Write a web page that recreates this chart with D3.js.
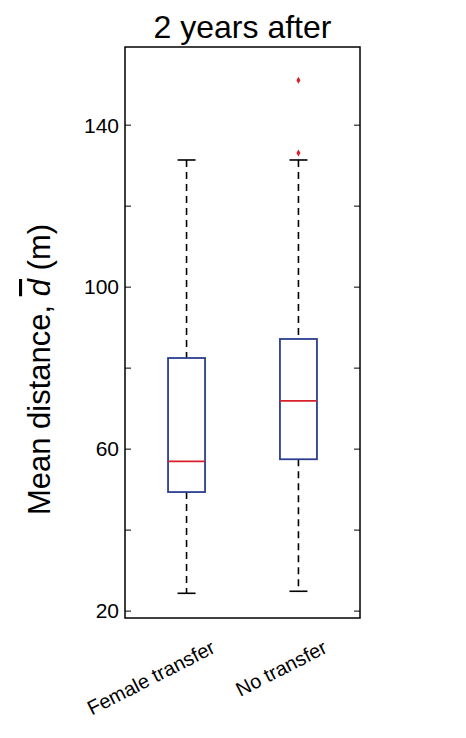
<!DOCTYPE html>
<html><head><meta charset="utf-8">
<script src="https://cdn.jsdelivr.net/npm/d3@7"></script>
<style>body{margin:0;background:#fff}text{font-family:Arial,"Liberation Sans",sans-serif}</style>
</head><body><div id="chart"></div>
<script>
// Box statistics
const groups   = ["Female transfer", "No transfer"];
const whiskLo  = [24.4, 24.9];
const q1       = [49.4, 57.5];
const medians  = [57.0, 71.9];
const q3       = [82.5, 87.2];
const whiskHi  = [131.4, 131.4];
const outliers = [[], [151.1, 133.1]];
const yTicks   = [20, 40, 60, 80, 100, 120, 140];
const yLabels  = [20, 60, 100, 140];

const W = 466, H = 738;
const m = {left: 125, right: 106, top: 47, bottom: 120};
const svg = d3.select("#chart").append("svg").attr("width", W).attr("height", H);

const y = d3.scaleLinear().domain([18.3, 159.3]).range([H - m.bottom, m.top]);
const x = d3.scalePoint().domain(groups).range([m.left, W - m.right]).padding(0.55);
const bw = 37;

const g = svg.append("g");
// ticks on both sides, pointing inward
yTicks.forEach(t => {
  g.append("line").attr("x1", m.left).attr("x2", m.left + 6).attr("y1", y(t)).attr("y2", y(t)).attr("stroke", "#000");
  g.append("line").attr("x1", W - m.right).attr("x2", W - m.right - 6).attr("y1", y(t)).attr("y2", y(t)).attr("stroke", "#000");
});
yLabels.forEach(t => {
  g.append("text").attr("x", m.left - 6).attr("y", y(t)).attr("dy", "0.35em")
    .attr("text-anchor", "end").attr("font-size", 21).text(t);
});

groups.forEach((grp, i) => {
  const cx = x(grp);
  g.append("line").attr("x1", cx).attr("x2", cx).attr("y1", y(whiskHi[i])).attr("y2", y(q3[i]))
    .attr("stroke", "#000").attr("stroke-width", 1.6).attr("stroke-dasharray", "7,5");
  g.append("line").attr("x1", cx).attr("x2", cx).attr("y1", y(q1[i])).attr("y2", y(whiskLo[i]))
    .attr("stroke", "#000").attr("stroke-width", 1.6).attr("stroke-dasharray", "7,5");
  [whiskHi[i], whiskLo[i]].forEach(v => g.append("line").attr("x1", cx - 9).attr("x2", cx + 9)
    .attr("y1", y(v)).attr("y2", y(v)).attr("stroke", "#000").attr("stroke-width", 1.6));
  g.append("rect").attr("x", cx - bw / 2).attr("width", bw).attr("y", y(q3[i]))
    .attr("height", y(q1[i]) - y(q3[i])).attr("fill", "none").attr("stroke", "#2b3f8f").attr("stroke-width", 1.8);
  g.append("line").attr("x1", cx - bw / 2).attr("x2", cx + bw / 2).attr("y1", y(medians[i])).attr("y2", y(medians[i]))
    .attr("stroke", "#d8202a").attr("stroke-width", 1.8);
  outliers[i].forEach(v => g.append("path").attr("d", d3.symbol(d3.symbolDiamond, 14)())
    .attr("transform", `translate(${cx},${y(v)})`).attr("fill", "#d8202a"));
  g.append("text").attr("transform", `translate(${cx + 30},${H - m.bottom + 34}) rotate(-27)`)
    .attr("text-anchor", "end").attr("font-size", 20).text(grp);
});

svg.append("rect").attr("x", m.left).attr("y", m.top).attr("width", W - m.left - m.right)
  .attr("height", H - m.top - m.bottom).attr("fill", "none").attr("stroke", "#000").attr("stroke-width", 1.5);

svg.append("text").attr("x", (m.left + W - m.right) / 2).attr("y", 38).attr("text-anchor", "middle")
  .attr("font-size", 32).text("2 years after");

const yl = svg.append("text").attr("transform", `translate(50,${(m.top + H - m.bottom) / 2 + 37}) rotate(-90)`)
  .attr("text-anchor", "middle").attr("font-size", 31);
yl.append("tspan").text("Mean distance, ");
yl.append("tspan").attr("font-style", "italic").style("text-decoration", "overline").text("d");
yl.append("tspan").text(" (m)");
</script></body></html>
